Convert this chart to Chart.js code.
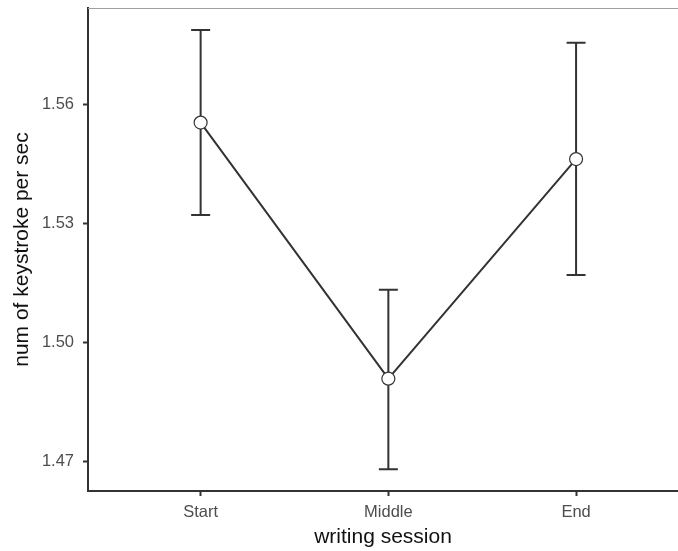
<!DOCTYPE html>
<html>
<head>
<meta charset="utf-8">
<script src="https://cdn.jsdelivr.net/npm/chart.js@4.4.1/dist/chart.umd.min.js"></script>
<style>
  html, body { margin: 0; padding: 0; background: #fff; overflow: hidden; }
  #wrap { width: 678px; height: 551px; }
</style>
</head>
<body>
<div id="wrap"><canvas id="chart" width="678" height="551"></canvas></div>
<script>
// Data
const sessions = ['Start', 'Middle', 'End'];
const means = [1.5554, 1.4909, 1.5462];
const upper = [1.5787, 1.5133, 1.5755];
const lower = [1.5321, 1.4681, 1.5170];
const yTicks = [1.47, 1.50, 1.53, 1.56];

const INK = '#333333';
const TICK_TEXT = '#4d4d4d';
const FONT = "'Liberation Sans', Arial, sans-serif";

// error bars drawn under the points
const errorBars = {
  id: 'errorBars',
  beforeDatasetsDraw(chart) {
    const { ctx, scales: { x, y } } = chart;
    ctx.save();
    ctx.strokeStyle = INK;
    ctx.lineWidth = 2;
    sessions.forEach((s, i) => {
      const px = x.getPixelForValue(i);
      const top = y.getPixelForValue(upper[i]);
      const bot = y.getPixelForValue(lower[i]);
      ctx.beginPath();
      ctx.moveTo(px, top); ctx.lineTo(px, bot);
      ctx.moveTo(px - 9.5, top); ctx.lineTo(px + 9.5, top);
      ctx.moveTo(px - 9.5, bot); ctx.lineTo(px + 9.5, bot);
      ctx.stroke();
    });
    ctx.restore();
  }
};

// thin grey line along the top of the panel
const topLine = {
  id: 'topLine',
  afterDraw(chart) {
    const { ctx, chartArea } = chart;
    ctx.save();
    ctx.strokeStyle = '#a0a0a0';
    ctx.lineWidth = 1.2;
    ctx.beginPath();
    ctx.moveTo(chartArea.left, chartArea.top + 0.5);
    ctx.lineTo(chartArea.right, chartArea.top + 0.5);
    ctx.stroke();
    ctx.restore();
  }
};

new Chart(document.getElementById('chart'), {
  type: 'line',
  data: {
    datasets: [{
      data: means.map((m, i) => ({ x: i, y: m })),
      borderColor: INK,
      borderWidth: 2,
      pointRadius: 6.5,
      pointBackgroundColor: '#ffffff',
      pointBorderColor: INK,
      pointBorderWidth: 1.2,
      tension: 0
    }]
  },
  options: {
    responsive: false,
    animation: false,
    events: [],
    layout: { autoPadding: false, padding: { top: 8, right: 0, left: 0, bottom: 0 } },
    plugins: { legend: { display: false }, tooltip: { enabled: false } },
    scales: {
      x: {
        type: 'linear',
        min: -0.6,
        max: 2.543,
        afterBuildTicks: (axis) => { axis.ticks = sessions.map((s, i) => ({ value: i })); },
        afterFit: (axis) => {
          axis.height = 60;
          axis.paddingLeft = 0;
          axis.paddingRight = 0;
        },
        ticks: {
          callback: (v) => sessions[v],
          color: TICK_TEXT,
          font: { family: FONT, size: 16.5 },
          padding: 7,
          maxRotation: 0
        },
        grid: { drawOnChartArea: false, drawTicks: true, tickLength: 5, tickColor: INK, tickWidth: 2 },
        border: { display: true, color: INK, width: 2 },
        title: {
          display: true,
          text: 'writing session',
          color: '#111',
          font: { family: FONT, size: 21 },
          padding: { top: 0, bottom: 1 }
        }
      },
      y: {
        min: 1.46262,
        max: 1.58425,
        afterBuildTicks: (axis) => { axis.ticks = yTicks.map(v => ({ value: v })); },
        afterFit: (axis) => {
          axis.width = 88;
          axis.paddingTop = 0;
          axis.paddingBottom = 0;
        },
        ticks: {
          callback: (v) => v.toFixed(2),
          color: TICK_TEXT,
          font: { family: FONT, size: 16.5 },
          padding: 9
        },
        grid: { drawOnChartArea: false, drawTicks: true, tickLength: 5, tickColor: INK, tickWidth: 2 },
        border: { display: true, color: INK, width: 2 },
        title: {
          display: true,
          text: 'num of keystroke per sec',
          color: '#111',
          font: { family: FONT, size: 21 },
          padding: { top: 10, bottom: 0 }
        }
      }
    }
  },
  plugins: [errorBars, topLine]
});
</script>
</body>
</html>
